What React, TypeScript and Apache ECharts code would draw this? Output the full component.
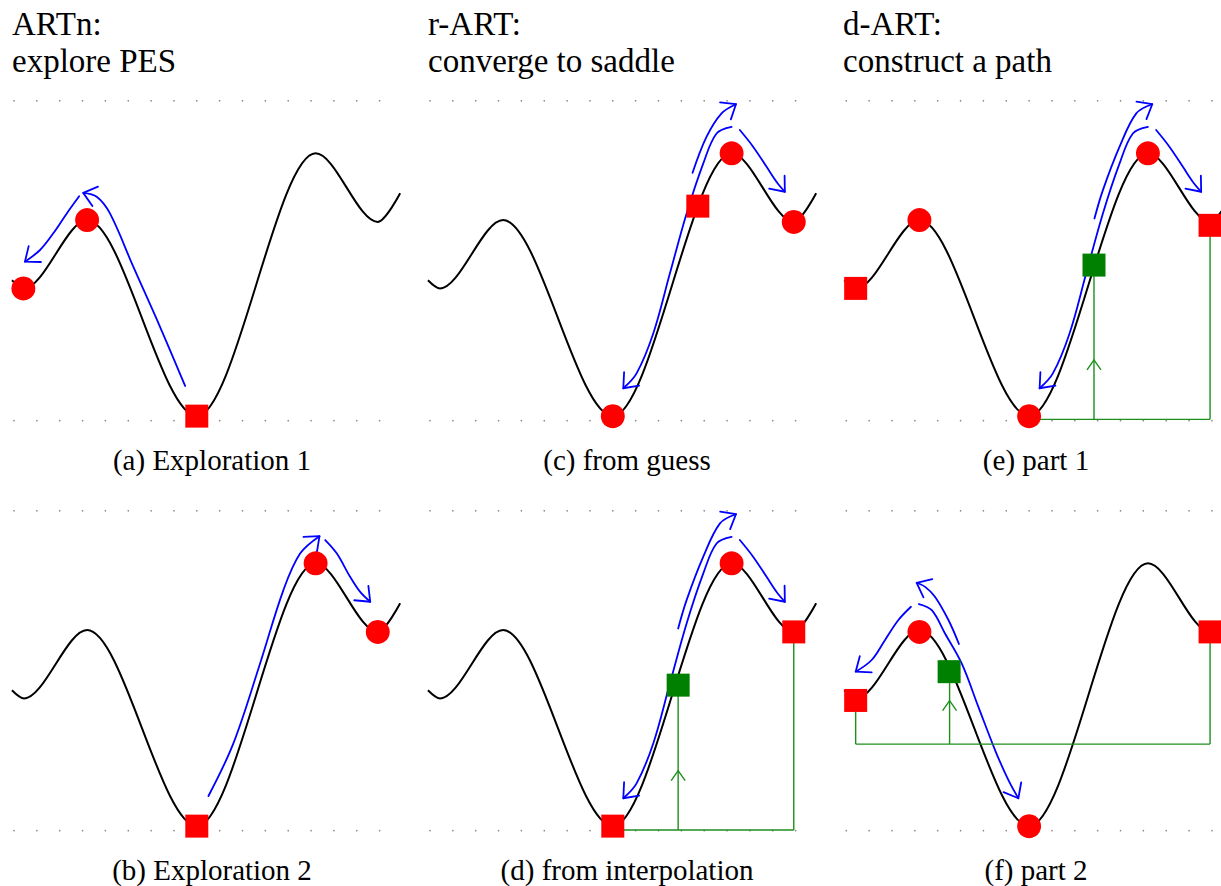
import React, { useEffect, useRef } from 'react';
import * as echarts from 'echarts';

// ---------- data (panel units: x along the path, y = energy) ----------
const gridDotX = [0, 1, 2, 3, 4, 5, 6, 7, 8, 9, 10, 11, 12, 13, 14, 15, 16];
const gridDotY = [0, 14];

// potential energy surface: end points and extrema
const curveX = [-0.09, 0.44, 3.2, 8.0, 13.2, 15.92, 16.9];
const curveY = [6.15, 5.79, 8.78, 0.2, 11.7, 8.7, 9.95];

const headerLines = [
  ['ARTn:', 'explore PES'],
  ['r-ART:', 'converge to saddle'],
  ['d-ART:', 'construct a path'],
];
const captions = [
  '(a) Exploration 1',
  '(b) Exploration 2',
  '(c) from guess',
  '(d) from interpolation',
  '(e) part 1',
  '(f) part 2',
];

// markers per panel a..f
const redCircles = [
  [[0.41, 5.79], [3.2, 8.78]],
  [[13.2, 11.7], [15.92, 8.7]],
  [[8.0, 0.2], [13.2, 11.7], [15.92, 8.7]],
  [[13.2, 11.7]],
  [[3.2, 8.78], [8.0, 0.2], [13.2, 11.7]],
  [[3.2, 8.7], [8.0, 0.2]],
];
const redSquares = [
  [[8.0, 0.2]],
  [[8.0, 0.2]],
  [[11.72, 9.39]],
  [[8.0, 0.2], [15.92, 8.7]],
  [[0.41, 5.79], [15.92, 8.55]],
  [[0.41, 5.7], [15.92, 8.7]],
];
const greenSquares = [[], [], [], [[10.86, 6.37]], [[10.84, 6.81]], [[4.5, 6.96]]];

// blue arrows (paths ending at the arrow tip)
const arrowA1 = [[7.49, 1.52], [6.39, 4.11], [5.22, 6.74], [4.2, 9.07], [3.62, 9.8], [3.03, 9.97]];
const arrowA2 = [[2.85, 9.82], [2.31, 9.07], [1.72, 8.2], [1.14, 7.47], [0.48, 6.96]];
const arrowB1 = [[8.51, 1.52], [9.6, 3.82], [10.77, 7.32], [11.79, 10.53], [12.52, 12.13], [13.37, 12.89]];
const arrowB2 = [[13.62, 12.72], [14.13, 12.13], [14.71, 11.11], [15.15, 10.45], [15.59, 10.02]];
const arrowCUp = [[11.49, 10.85], [12.1, 12.42], [12.76, 13.45], [13.39, 13.85]];
const arrowCDown = [[13.2, 12.86], [12.54, 12.57], [11.96, 11.26], [11.23, 9.07], [10.5, 6.45], [9.77, 3.82], [9.04, 2.07], [8.46, 1.42]];
const arrowCRight = [[13.56, 12.72], [14.14, 11.99], [14.73, 11.11], [15.17, 10.45], [15.53, 10.02]];
const arrowDUp = [[10.86, 8.85], [11.23, 10.09], [11.96, 11.99], [12.69, 13.45], [13.39, 13.85]];
const arrowF1 = [[4.93, 8.17], [4.47, 9.22], [3.88, 10.24], [3.45, 10.67], [3.08, 10.85]];
const arrowF2 = [[2.83, 9.8], [2.28, 9.22], [1.69, 8.34], [1.11, 7.47], [0.41, 6.96]];
const arrowF3 = [[3.18, 9.92], [3.74, 9.65], [4.32, 8.63], [5.05, 7.32], [5.78, 5.42], [6.51, 3.53], [7.09, 2.22], [7.53, 1.42]];
const blueArrows = [
  [arrowA1, arrowA2],
  [arrowB1, arrowB2],
  [arrowCUp, arrowCDown, arrowCRight],
  [arrowDUp, arrowCDown, arrowCRight],
  [arrowDUp, arrowCDown, arrowCRight],
  [arrowF1, arrowF2, arrowF3],
];

// green interpolation constructions [x1, y1, x2, y2]
const greenLinesD = [[8.0, 0.03, 15.92, 0.03], [15.92, 0.03, 15.92, 8.7], [10.86, 0.03, 10.86, 6.37]];
const greenLinesE = [[8.0, 0.06, 15.92, 0.06], [15.92, 0.06, 15.92, 8.55], [10.84, 0.06, 10.84, 6.81]];
const greenLinesF = [[0.41, 3.79, 15.92, 3.79], [0.41, 3.79, 0.41, 5.7], [15.92, 3.79, 15.92, 8.7], [4.52, 3.79, 4.52, 6.96]];
const greenLines = [[], [], [], greenLinesD, greenLinesE, greenLinesF];
const greenTips = [[], [], [], [[10.86, 2.63]], [[10.84, 2.66]], [[4.52, 5.69]]];

// ---------- layout ----------
const UNIT = 22.85;
const COL_X = [14, 430, 846.3];
const COL_XMAX = [17.5, 17.5, 16.39]; // last column is cut by the page edge
const ROW_Y = [420.7, 830.7];
const HEADER_X = [12, 428, 843];
const HEADER_Y = [23.8, 60.8];
const CAPTION_X = [212, 627, 1036];
const CAPTION_Y = [460.3, 870.3];
const HEADER_FONT = '33px "Liberation Serif", "Times New Roman", serif';
const CAPTION_FONT = '29px "Liberation Serif", "Times New Roman", serif';
const BLUE = '#0000ff';
const GREEN = '#1c8f1c';

function buildOption() {
  const grids: any[] = [];
  const xAxes: any[] = [];
  const yAxes: any[] = [];
  const series: any[] = [];
  const dots = gridDotY.flatMap((y) => gridDotX.map((x) => [x, y]));
  const curve = curveX.map((x, j) => [x, curveY[j]]);

  for (let i = 0; i < 6; i++) {
    const col = Math.floor(i / 2);
    const row = i % 2;
    const ox = COL_X[col];
    const oy = ROW_Y[row];
    const xmin = -0.5;
    const xmax = COL_XMAX[col];
    grids.push({
      left: ox + xmin * UNIT, top: oy - 15 * UNIT, width: (xmax - xmin) * UNIT, height: 16 * UNIT,
      containLabel: false,
    });
    xAxes.push({ gridIndex: i, type: 'value', min: xmin, max: xmax, show: false });
    yAxes.push({ gridIndex: i, type: 'value', min: -1, max: 15, show: false });
    const ax = { xAxisIndex: i, yAxisIndex: i };

    series.push({
      ...ax, type: 'scatter', data: dots, symbol: 'circle', symbolSize: 1.6, silent: true, z: 1, clip: false,
      itemStyle: { color: '#8a8a8a', opacity: 1 },
    });
    series.push({
      ...ax, type: 'line', data: curve, smooth: 0.32, smoothMonotone: 'x', showSymbol: false, symbol: 'none',
      clip: false, silent: true, z: 2, lineStyle: { color: '#000', width: 2 },
    });

    const arrows = blueArrows[i];
    series.push({
      ...ax, type: 'custom', clip: false, silent: true, z: 3,
      data: arrows.map((a) => a[0]),
      renderItem: (params: any, api: any) => {
        const pts = arrows[params.dataIndex].map((p) => api.coord(p));
        const n = pts.length;
        const [tx, ty] = pts[n - 1];
        const [px, py] = pts[n - 2];
        let dx = tx - px;
        let dy = ty - py;
        const len = Math.hypot(dx, dy) || 1;
        dx /= len;
        dy /= len;
        const L = 16;
        const ang = 0.68;
        const arm = (s: number) => {
          const c = Math.cos(s * ang);
          const sn = Math.sin(s * ang);
          const bx = -dx;
          const by = -dy;
          return [tx + L * (bx * c - by * sn), ty + L * (bx * sn + by * c)];
        };
        const style = { stroke: BLUE, lineWidth: 1.8, fill: null, lineCap: 'round', lineJoin: 'round' };
        return {
          type: 'group',
          children: [
            { type: 'polyline', shape: { points: pts, smooth: 0.35 }, style },
            { type: 'polyline', shape: { points: [arm(1), [tx, ty], arm(-1)] }, style },
          ],
        };
      },
    });

    const segs = greenLines[i];
    if (segs.length) {
      series.push({
        ...ax, type: 'custom', clip: false, silent: true, z: 3,
        data: segs.map((s) => [s[0], s[1]]),
        renderItem: (params: any, api: any) => {
          const s = segs[params.dataIndex];
          const p1 = api.coord([s[0], s[1]]);
          const p2 = api.coord([s[2], s[3]]);
          return {
            type: 'line',
            shape: { x1: p1[0], y1: p1[1], x2: p2[0], y2: p2[1] },
            style: { stroke: GREEN, lineWidth: 1.4 },
          };
        },
      });
      const tips = greenTips[i];
      series.push({
        ...ax, type: 'custom', clip: false, silent: true, z: 3,
        data: tips,
        renderItem: (params: any, api: any) => {
          const [tx, ty] = api.coord(tips[params.dataIndex]);
          return {
            type: 'polyline',
            shape: { points: [[tx - 7, ty + 10], [tx, ty], [tx + 7, ty + 10]] },
            style: { stroke: GREEN, lineWidth: 1.4, fill: null },
          };
        },
      });
    }

    series.push({
      ...ax, type: 'scatter', data: redCircles[i], symbol: 'circle', symbolSize: 24, silent: true, z: 5, clip: false,
      itemStyle: { color: '#ff0000', opacity: 1 },
    });
    series.push({
      ...ax, type: 'scatter', data: redSquares[i], symbol: 'rect', symbolSize: 23, silent: true, z: 5, clip: false,
      itemStyle: { color: '#ff0000', opacity: 1 },
    });
    if (greenSquares[i].length) {
      series.push({
        ...ax, type: 'scatter', data: greenSquares[i], symbol: 'rect', symbolSize: 23, silent: true, z: 5, clip: false,
        itemStyle: { color: '#008000', opacity: 1 },
      });
    }
  }

  const graphic: any[] = [];
  headerLines.forEach((lines, c) => {
    lines.forEach((t, k) => {
      graphic.push({
        type: 'text', x: HEADER_X[c], y: HEADER_Y[k], silent: true,
        style: { text: t, font: HEADER_FONT, fill: '#000', align: 'left', verticalAlign: 'middle' },
      });
    });
  });
  captions.forEach((t, i) => {
    graphic.push({
      type: 'text', x: CAPTION_X[Math.floor(i / 2)], y: CAPTION_Y[i % 2], silent: true,
      style: { text: t, font: CAPTION_FONT, fill: '#000', align: 'center', verticalAlign: 'middle' },
    });
  });

  return {
    animation: false,
    backgroundColor: '#ffffff',
    grid: grids,
    xAxis: xAxes,
    yAxis: yAxes,
    series,
    graphic,
  };
}

export default function App() {
  const ref = useRef<HTMLDivElement>(null);
  useEffect(() => {
    const chart = echarts.init(ref.current as HTMLDivElement, null, { renderer: 'svg' });
    chart.setOption(buildOption() as any);
    return () => chart.dispose();
  }, []);
  return (
    <div
      ref={ref}
      style={{ position: 'fixed', left: 0, top: 0, width: 1221, height: 886, background: '#fff' }}
    />
  );
}
